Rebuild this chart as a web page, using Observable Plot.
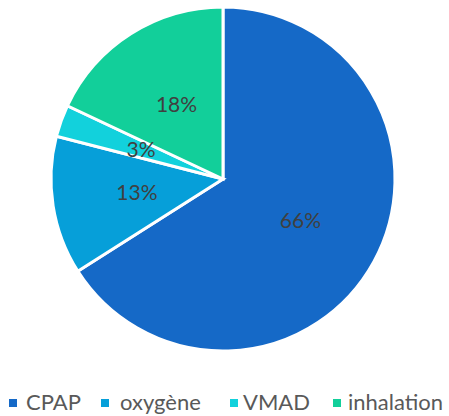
<!DOCTYPE html>
<html>
<head>
<meta charset="utf-8">
<script src="https://cdn.jsdelivr.net/npm/d3@7"></script>
<script src="https://cdn.jsdelivr.net/npm/@observablehq/plot@0.6"></script>
<style>
  body { margin: 0; background: #fff; font-family: Lato, sans-serif; }
  #wrap { position: relative; width: 449px; height: 416px; }
  #legend { position: absolute; left: 0; top: 386px; width: 449px; height: 30px; font-size: 22px; color: #595959; }
  .sw { position: absolute; width: 8px; height: 8px; top: 13px; }
  .lt { position: absolute; top: 3px; line-height: 26px; white-space: nowrap; }
</style>
</head>
<body>
<div id="wrap">
<div id="chart"></div>
<div id="legend"></div>
</div>
<script>
const categories = ["CPAP", "oxygène", "VMAD", "inhalation"];
const values = [66, 13, 3, 18];
const labels = ["66%", "13%", "3%", "18%"];
const colors = ["#1569c7", "#069fd9", "#12d1dc", "#12cf9a"];

const data = categories.map((c, i) => ({category: c, value: values[i], label: labels[i]}));
const arcs = d3.pie().sort(null).value(d => d.value)(data);
const labelR = 0.51;
const labelData = arcs.map(a => {
  const m = (a.startAngle + a.endAngle) / 2;
  return {label: a.data.label, x: labelR * Math.sin(m), y: labelR * Math.cos(m)};
});

const pieMark = (index, scales, values, dimensions, context) => {
  const cx = scales.x(0), cy = scales.y(0);
  const r = scales.x(1) - scales.x(0);
  const arcGen = d3.arc().innerRadius(0).outerRadius(r);
  const g = d3.create("svg:g").attr("transform", `translate(${cx},${cy})`);
  g.selectAll("path").data(arcs).join("path")
    .attr("d", arcGen)
    .attr("fill", d => scales.color(d.data.category))
    .attr("stroke", "#fff")
    .attr("stroke-width", 3)
    .attr("stroke-linejoin", "miter");
  return g.node();
};

const plot = Plot.plot({
  width: 449,
  height: 380,
  margin: 0,
  x: {domain: [-1, 1], range: [51, 395], axis: null},
  y: {domain: [-1, 1], range: [351, 7], axis: null},
  color: {domain: categories, range: colors},
  style: {fontFamily: "Lato, sans-serif", background: "#fff"},
  marks: [
    pieMark,
    Plot.text(labelData, {x: "x", y: "y", text: "label", fill: "#404040", fontSize: 21})
  ]
});
document.getElementById("chart").appendChild(plot);

const legend = d3.select("#legend");
const swLeft = [9, 101, 230, 333];
const txtLeft = [26, 120, 243, 348];
categories.forEach((c, i) => {
  legend.append("div").attr("class", "sw").style("left", swLeft[i] + "px").style("background", colors[i]);
  legend.append("span").attr("class", "lt").style("left", txtLeft[i] + "px").text(c);
});
</script>
</body>
</html>
